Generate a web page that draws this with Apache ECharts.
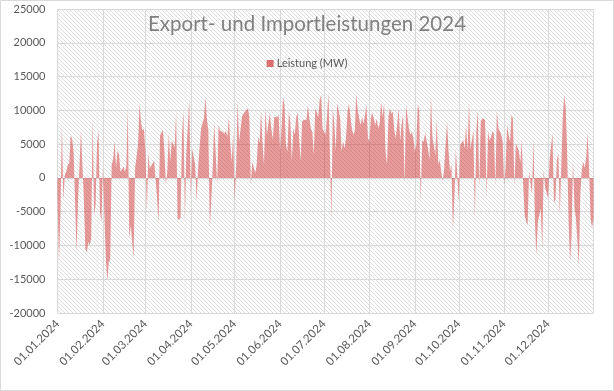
<!DOCTYPE html>
<html><head><meta charset="utf-8">
<script src="https://cdn.jsdelivr.net/npm/echarts@6/dist/echarts.min.js"></script>
<style>html,body{margin:0;padding:0;background:#fff}#c{width:614px;height:391px}</style>
</head><body><div id="c"></div>
<script>
// Daily values (MW), 01.01.2024 .. 01.01.2025 (index 0..366)
const values = [
-2500,-12400,-5500,7800,-3300,500,900,1900,2200,6300,
5800,3900,-3500,-11100,-3500,-3500,7000,7000,-3000,-10500,
-11000,-9500,-10000,-9000,9000,-5500,-4000,5100,7000,-5000,
-6500,1500,1500,-12000,-15300,-12500,-12100,2000,2700,5400,
1500,4000,3500,900,1200,1700,900,1700,10400,-9000,
-7000,-7000,-11900,1500,1700,4900,11000,8300,7000,7300,
4100,-5200,3700,1400,1200,2200,2500,2400,-3000,-6700,
6300,6300,7100,3900,-1000,1000,6600,2400,5500,5300,
4500,9800,-6200,-6200,-6000,6300,9900,-6400,3900,3900,
11500,-3000,4400,4400,1900,-3500,1500,1400,7300,7300,
8800,12000,8800,7000,-7400,-3300,1500,8300,8300,-1000,
7800,7000,7000,6800,6500,7000,6000,9000,4900,2400,
6800,-3500,1700,11500,5400,5400,9100,9500,9800,10000,
10300,9000,-1000,2400,2400,700,1900,6100,5100,9900,
5100,1900,10300,6400,6400,9600,7300,5700,9000,9000,
9000,9300,4000,7500,11900,10800,4900,3900,9800,8300,
2400,7300,6400,9000,9600,5900,2400,8300,8600,8600,
8600,10800,8800,7300,6800,3400,10300,10300,9000,11500,
12300,7300,6800,6400,9000,12500,4000,-6500,10300,8000,
3900,11000,10000,8800,3900,5400,4400,5900,9800,11000,
9000,7300,6400,6900,12500,10000,8800,7800,9000,8000,
9300,10800,5900,5400,9000,9600,8800,7800,8800,7300,
8000,11300,9000,11000,3900,2000,9000,10300,9500,9800,
7000,5900,8000,10300,5500,8000,9300,-1000,10800,9000,
7300,6400,6800,5900,3900,4900,10800,10000,-3750,5600,
5300,6600,6400,4400,2700,12100,6000,6100,3400,8600,
2000,2700,900,-500,1200,4900,8300,4000,1000,2000,
-7700,-3000,4400,4400,-3750,4900,4900,5600,4400,7800,
4000,11000,4200,4200,7100,-6200,7000,10000,-1500,8300,
8800,8800,8600,-3000,6900,5600,6000,6900,6600,-1300,
10000,7400,6900,6400,5400,-1000,1700,7800,6400,5400,
9300,8800,-1500,5100,5300,4000,2200,5600,-1000,-5500,
-6500,-7000,900,900,-2500,5900,-6500,-11400,-6500,-6500,
-4500,-10600,1200,-1500,-1500,-3000,2700,2700,6600,-3700,
-3200,2700,3600,-5500,-5500,9000,12300,10500,3900,-6500,
-12400,-8700,2700,-4500,-6000,-9300,-13100,-2500,1200,2400,
1500,3000,6600,1400,-6000,-7400,-6000
];
const titleText = 'Export- und Importleistungen 2024';
const seriesName = 'Leistung (MW)';
const yTicks = {min: -20000, max: 25000, step: 5000};

// category labels dd.mm.yyyy
const categories = [];
for (let i = 0; i < values.length; i++) {
  const d = new Date(Date.UTC(2024, 0, 1 + i));
  const dd = String(d.getUTCDate()).padStart(2, '0');
  const mm = String(d.getUTCMonth() + 1).padStart(2, '0');
  categories.push(dd + '.' + mm + '.' + d.getUTCFullYear());
}

// hatch pattern
const pc = document.createElement('canvas');
pc.width = 4; pc.height = 4;
const px = pc.getContext('2d');
px.fillStyle = '#ffffff'; px.fillRect(0, 0, 4, 4);
px.fillStyle = '#dcdcdc';
for (let i = 0; i < 4; i++) px.fillRect(i, i, 1, 1);

const chart = echarts.init(document.getElementById('c'), null, {renderer: 'canvas'});
const FONT = 'Lato';
chart.setOption({
  animation: false,
  backgroundColor: '#fff',
  title: {
    text: titleText, left: 'center', top: 9,
    textStyle: {fontFamily: FONT, fontSize: 20.5, fontWeight: 'normal', color: '#808080'}
  },
  legend: {
    top: 53, left: 'center',
    icon: 'rect', itemWidth: 7, itemHeight: 7, itemGap: 4,
    textStyle: {fontFamily: FONT, fontSize: 11, color: '#595959', padding: [0, 0, 0, -2]},
    data: [seriesName]
  },
  grid: {
    left: 57.5, right: 20.5, top: 9, bottom: 78,
    show: true, borderWidth: 0,
    backgroundColor: {image: pc, repeat: 'repeat'}
  },
  xAxis: {
    type: 'category', data: categories, boundaryGap: false,
    axisLine: {show: false, onZero: false},
    axisTick: {show: false},
    axisLabel: {
      rotate: 45, margin: 9, fontFamily: FONT, fontSize: 11.5, color: '#595959',
      interval: (idx, val) => val.startsWith('01.') && val.endsWith('2024')
    },
    splitLine: {
      show: true, lineStyle: {color: '#d9d9d9', width: 1},
      interval: (idx, val) => categories[idx].startsWith('01.')
    }
  },
  yAxis: {
    type: 'value', min: yTicks.min, max: yTicks.max, interval: yTicks.step,
    axisLine: {show: false}, axisTick: {show: false},
    axisLabel: {fontFamily: FONT, fontSize: 11, color: '#595959', margin: 12,
      formatter: v => String(v)},
    splitLine: {lineStyle: {color: '#d9d9d9', width: 1}}
  },
  series: [{
    name: seriesName, type: 'line', data: values,
    symbol: 'none', sampling: null,
    lineStyle: {width: 0},
    itemStyle: {color: 'rgba(205,45,45,0.68)'},
    areaStyle: {color: 'rgba(205,45,45,0.68)', origin: 0}
  }],
  graphic: [{
    type: 'rect', shape: {x: 0.5, y: 0.5, width: 613, height: 390},
    style: {fill: null, stroke: '#d9d9d9', lineWidth: 1}, silent: true
  }]
});
</script></body></html>
